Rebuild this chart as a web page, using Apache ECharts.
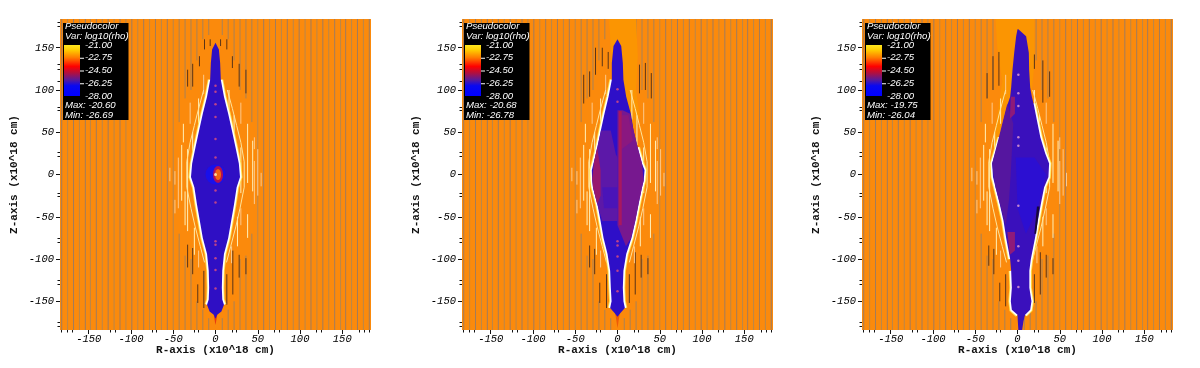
<!DOCTYPE html>
<html><head><meta charset="utf-8">
<style>html,body{margin:0;padding:0;background:#fff}#c{width:1200px;height:368px}</style>
<script src="https://cdn.jsdelivr.net/npm/echarts@6/dist/echarts.min.js"></script>
</head><body><div id="c"></div>
<script>
const tickValues = [-150,-100,-50,0,50,100,150];
const minorX = [-182,-176,-170,-125,-119,-75,-70,-25,-20,20,25,70,75,119,125,170,176,182];
const minorZ = [-180,-175,-130,-125,-80,-76,-26,-22,22,26,76,80,110,125,130,175,180];
const legendValues = ['-21.00','-22.75','-24.50','-26.25','-28.00'];
const maxValues = ['-20.60','-20.68','-19.75'];
const minValues = ['-26.69','-26.78','-26.04'];
const varName = 'Var: log10(rho)';
const legendTitle = 'Pseudocolor';

// gray streak positions (R) running the full height
const grayStrong = [-182,-168,-154,-141,-127,-113,-99,-85,-71,-57,57,71,85,99,113,127,141,154,168,182];
const grayFaint = [-175,-161,-148,-134,-120,-106,-92,-78,-64,-50,50,64,78,92,106,120,134,148,161,175];
// gray segments close to the jet: [R, zTop, zBottom]
const grayNear = [
 [-43,184,62],[-43,-70,-184],[-36,184,90],[-36,-96,-184],[-29,184,100],[-29,-100,-184],[-22,184,135],[-22,-150,-184],
 [-15,184,160],[-15,-160,-184],[-8,184,165],[-8,-170,-184],[8,184,165],[8,-170,-184],[15,184,160],[15,-160,-184],
 [22,184,135],[22,-150,-184],[29,184,100],[29,-100,-184],[36,184,90],[36,-96,-184],[43,184,62],[43,-70,-184]
];
// dark streaks near the jet: [R, zTop, zBottom]
const dark1 = [[-13,160,148],[-6.3,160,152],[6,160,152],[13.4,160,148],[-19,140,128],[-27,131,104],[-33,124,104],[20,140,126],[28,131,104],[36,124,96],
 [-13.8,-114,-158],[-21,-130,-152],[-27,-87,-118],[-33,-83,-110],[13.4,-118,-154],[20.5,-90,-142],[28,-95,-122],[36,-99,-118]];
const dark2 = [[-26,150,118],[-18,150,128],[-11,145,125],[-33,122,92],[-40,118,84],[26,130,96],[33,132,100],[40,120,90],
 [-13,-118,-158],[-21,-128,-152],[-27,-88,-118],[-33,-84,-110],[14,-118,-152],[21,-92,-142],[28,-95,-122],[36,-99,-118]];
const dark3 = [[-29,140,100],[-22,145,105],[-36,120,90],[20,142,125],[30,135,85],[38,122,92],
 [-14,-118,-156],[-21,-128,-150],[-28,-88,-118],[-34,-84,-108],[20,-118,-152],[27,-92,-142],[34,-95,-122],[42,-99,-118]];
// pale fragments of the contours around the jet: [R, zTop, zBottom]
const paleBright = [[30,32,-22],[38,60,-10],[38,-47,-75],[-25,-63,-95],[-33,30,-67],[-40,35,-31],[-20,90,60],[-27,50,10],[16,100,65],[22,70,35],[44,40,-20],[-36,-20,-60],[26,-50,-85],[-38,60,38]];
const paleSoft = [[46,16,-35],[54,2,-14],[-48,4,-12],[-14,118,95],[-20,-90,-110],[19,-85,-105],[30,-40,-60],[46,44,30],[-48,-30,-46],[-54,8,-8],[50,30,-25],[-44,20,-40],[-30,85,60],[30,85,60]];
// contour lines hugging the jet
const hugRight = [[14,100],[20,78],[25,58],[30,38],[34,15],[34,-15],[29,-40],[24,-62],[18,-85],[13,-104]];
const hugLeft = [[-14,100],[-20,78],[-25,58],[-30,38],[-34,15],[-34,-15],[-29,-40],[-24,-62],[-18,-85],[-13,-104]];

// jet outlines: [z, left R, right R]
const jet1 = [[156,0,0],[148,-4,4],[132,-5.5,5.5],[112,-6.3,6.3],[92,-10,10],[72,-15,15],[52,-19.4,19.4],[32,-23.7,23.7],[13,-27.6,27.6],[-3,-29,29],[-15,-25,25],[-35,-22,22],[-55,-18.5,18.5],[-75,-15,15],[-94,-10,10],[-114,-8,8],[-134,-7.5,7.5],[-148,-8,8],[-154,-10,10],[-162,-7,7],[-166,-2,2],[-170,-0.3,0.3]];
const jet2 = [[160,0,0],[152,-4.7,4.4],[132,-6.7,6.3],[112,-6.7,7],[92,-10.6,10.3],[72,-15.4,15.8],[52,-19.7,19],[32,-23.7,23.7],[13,-28.4,28.9],[5,-30.4,32],[-7,-30,31],[-15,-29,29],[-35,-23.7,24.8],[-55,-20,21],[-75,-16.5,16.5],[-94,-11.8,10.3],[-114,-8.7,7],[-134,-7.9,6.3],[-150,-7,7],[-158,-8.7,8.7],[-164,-3.5,3.5],[-168,-0.3,0.3]];
const jet3 = [[172,0,1],[163.5,-1.6,10.2],[144,-3.9,13.4],[124,-5.9,13.8],[103,-7.5,15],[92,-8.7,17],[84,-11.4,19],[64,-16.5,23],[44,-21,27],[25,-26.4,32.7],[13,-30,37.4],[-3,-29,36.6],[-15,-26,31.5],[-35,-21,27.6],[-55,-16.5,24],[-75,-13.4,20.7],[-100,-8.7,15.8],[-114,-7.5,14],[-134,-6.7,14],[-150,-7.9,16.5],[-160,-6.7,15],[-166,0,9],[-174,0.4,7],[-184,1,5.5]];
// bright edges: [zTop, zBottom, side]
const edges1 = [[120,-160,'l'],[120,-160,'r']];
const edges2 = [[112,-160,'l'],[32,-160,'r']];
const edges3 = [[44,-100,'l'],[-114,-166,'l'],[84,-172,'r']];
// pale orange patches
const halo2 = [[-10,184],[22,184],[24,140],[22,100],[26,70],[20,55],[0,60],[-6,120],[-8,150]];
const halo3 = [[-26,184],[20,184],[20,130],[16,90],[0,60],[-20,50],[-30,30],[-18,110],[-24,150]];
// interior shades: [colour, polygon]
const shades1 = [];
const shades2 = [
 ['#77188f',[[0,76],[6,76],[15,72],[19,52],[24,32],[29,13],[31,-7],[29,-15],[25,-35],[21,-55],[16,-75],[10,-85],[0,-60],[0,0]]],
 ['#5c18a8',[[-2,24],[-8,52],[-19.5,52],[-24,32],[-28,13],[-28,-7],[-29,-15],[-24,-35],[-18,-55],[0,-55],[0,20]]],
 ['#98186e',[[-24,32],[-28,13],[-30,-5],[-29,-15],[-24,-35],[-20,-25],[-20,5]]],
 ['#4a14b8',[[-18,-15],[0,-15],[0,-40],[-16,-40]]],
 ['#8a1880',[[5,70],[13,70],[18,40],[5,30]]],
 ['#a8185f',[[1.5,75],[5,75],[5,-60],[1.5,-60]]]
];
const shades3 = [
 ['#55169f',[[-30,13],[-22,44],[-12,84],[-5,60],[-8,0],[-10,-30],[-14,-60],[-26,-15]]],
 ['#8e1a7a',[[-8,92],[-3,92],[-3,72],[-9,66]]],
 ['#8e1a7a',[[-12,-68],[-3,-68],[-3,-90],[-9,-95]]],
 ['#2c0fd2',[[-2,20],[20,20],[34,0],[24,-40],[10,-70],[0,-40]]],
 ['#180838',[[23,-38],[26,-38],[22,-70],[20,-70]]]
];
const tip1 = [[-2.5,-164],[2.5,-164],[0,-178]];
const tip2 = [[-3,-162],[3,-162],[0,-182]];
// small bright knots on the axis
const knots1 = [[0,105],[0,98],[0,83],[0,68],[0,42],[0,20],[0,-19],[0,-33],[0,-79],[0,-83],[0,-99],[0,-113],[0,-135]];
const knots2 = [[0,101],[0,86],[0,-79],[0,-84],[0,-97],[0,-114],[0,-138]];
const knots3 = [[1,118],[1,96],[1,81],[1,44],[1,34],[1,-37],[1,-85],[1,-102],[1,-133]];

const panelLeft = [60,462,862];
const legendLeft = [63,464,865];
const plotSize = 311;
const RANGE = 184;
const ORANGE = '#fb8a0c';

const series = [];
function linesSeries(g, paths, color, width, z) {
  series.push({type:'lines', coordinateSystem:'cartesian2d', xAxisIndex:g*2, yAxisIndex:g*2, polyline:true, silent:true, z:z,
    lineStyle:{color:color, width:width, opacity:1, curveness:0}, data:paths.map(p=>({coords:p}))});
}
function polySeries(g, pts, color, z) {
  series.push({type:'custom', xAxisIndex:g*2, yAxisIndex:g*2, coordinateSystem:'cartesian2d', silent:true, z:z, clip:true, data:pts,
    renderItem:(params, api)=> params.dataIndex!==0 ? null : ({type:'polygon',
      shape:{points:pts.map(p=>api.coord(p))}, style:{fill:color}})});
}
function outline(rows){ return rows.map(r=>[r[2],r[0]]).concat(rows.slice().reverse().map(r=>[r[1],r[0]])); }
function edgePath(rows,e){ return rows.filter(r=>r[0]<=e[0]&&r[0]>=e[1]).map(r=>[e[2]==='l'?r[1]:r[2],r[0]]); }
function segs(list,shift){ return list.map(s=>{const r=s[0]>0?s[0]+(shift||0):s[0];return [[r,s[1]],[r,s[2]]];}); }

const jets=[jet1,jet2,jet3], darks=[dark1,dark2,dark3], edgeSets=[edges1,edges2,edges3], shadeSets=[shades1,shades2,shades3], knotSets=[knots1,knots2,knots3];
const paleShift=[0,1,4];
const xAxes=[], yAxes=[], grids=[];
const labelFont={fontFamily:'Liberation Mono',fontStyle:'italic',fontWeight:'normal',fontSize:10.5,color:'#000'};
const nameFont={fontFamily:'Liberation Mono',fontWeight:'bold',fontSize:11,color:'#111'};
panelLeft.forEach((left,g)=>{
  grids.push({left:left,top:19,width:plotSize,height:plotSize,show:true,backgroundColor:ORANGE,borderWidth:0});
  const main=(name,gap)=>({gridIndex:g,type:'value',min:-RANGE,max:RANGE,splitLine:{show:false},axisLine:{show:false,onZero:false},
    axisTick:{show:true,length:4,inside:false,customValues:tickValues,lineStyle:{color:'#111',width:1}},
    axisLabel:{show:true,customValues:tickValues,margin:gap,...labelFont},
    name:name,nameLocation:'middle',nameMoveOverlap:false,nameTextStyle:nameFont});
  const minor=(vals)=>({gridIndex:g,type:'value',min:-RANGE,max:RANGE,splitLine:{show:false},axisLine:{show:false,onZero:false},
    axisTick:{show:true,length:2.5,customValues:vals,lineStyle:{color:'#111',width:1}},axisLabel:{show:false}});
  xAxes.push({...main('R-axis (x10^18 cm)',4),position:'bottom',nameGap:15},{...minor(minorX),position:'bottom'});
  yAxes.push({...main('Z-axis (x10^18 cm)',6),position:'left',nameGap:40},{...minor(minorZ),position:'left'});

  // streaks
  linesSeries(g,grayStrong.map(r=>[[r,RANGE],[r,-RANGE]]),'#a07c5e',1,2);
  linesSeries(g,grayFaint.map(r=>[[r,RANGE],[r,-RANGE]]),'#b8874c',1,2);
  linesSeries(g,segs(grayNear),'#a88258',1,2);
  if(g===1) polySeries(g,halo2,'#fb9502',3);
  if(g===2) polySeries(g,halo3,'#fb9502',3);
  linesSeries(g,segs(darks[g]),'#5a3418',1,4);
  linesSeries(g,segs(paleBright,paleShift[g]),'#fff0b8',1,5);
  linesSeries(g,segs(paleSoft,paleShift[g]),'#fcc98c',1,5);
  // contours hugging the jet and bright edges
  const sh=paleShift[g];
  linesSeries(g,[hugRight.map(p=>[p[0]+sh,p[1]]),hugLeft],'#ffe49a',1,5);
  const edgePaths=edgeSets[g].map(e=>edgePath(jets[g],e));
  linesSeries(g,edgePaths,'#ffe04a',5,6);
  linesSeries(g,edgePaths,'#ffffff',3.2,7);
  if(g===0) polySeries(g,tip1,'#e83a10',7);
  if(g===1) polySeries(g,tip2,'#ee5a08',7);
  polySeries(g,outline(jets[g]),g===0?'#2f0fc4':(g===1?'#2e0fc8':'#3a10bc'),8);
  shadeSets[g].forEach((s,i)=>polySeries(g,s[1],s[0],9+i*0.01));
  series.push({type:'scatter',xAxisIndex:g*2,yAxisIndex:g*2,symbolSize:2.5,silent:true,z:11,data:knotSets[g],
    itemStyle:{color:g===2?'#e8a0d0':'#e0507a'}});
});
// central source in the first panel
const coreBlue=[[0,0]], coreRed=[[3,0]], coreHot=[[3,0]], coreWhite=[[0,0]];
series.push({type:'scatter',xAxisIndex:0,yAxisIndex:0,symbolSize:20,silent:true,z:10,data:coreBlue,itemStyle:{color:'#1410f4'}});
series.push({type:'scatter',xAxisIndex:0,yAxisIndex:0,symbolSize:[10,17],silent:true,z:12,data:coreRed,itemStyle:{color:'#d81030'}});
series.push({type:'scatter',xAxisIndex:0,yAxisIndex:0,symbolSize:[6,11],silent:true,z:13,data:coreHot,itemStyle:{color:'#ff7a00'}});
series.push({type:'scatter',xAxisIndex:0,yAxisIndex:0,symbolSize:3,silent:true,z:14,data:coreWhite,itemStyle:{color:'#fff4c0'}});

// legends
const graphics=[];
const txtFont='italic 9.6px "Liberation Sans"';
legendLeft.forEach((x,g)=>{
  graphics.push({type:'rect',z:50,shape:{x:x,y:23,width:65.5,height:97},style:{fill:'#000'}});
  graphics.push({type:'rect',z:51,shape:{x:x+1,y:45,width:16,height:51},style:{fill:new echarts.graphic.LinearGradient(0,0,0,1,[
    {offset:0,color:'#ffe820'},{offset:.1,color:'#ffcc00'},{offset:.25,color:'#ff7a00'},{offset:.42,color:'#ff0000'},
    {offset:.55,color:'#b01040'},{offset:.68,color:'#5a1a98'},{offset:.8,color:'#0808f0'},{offset:1,color:'#0000ff'}])}});
  const t=(s,dx,y)=>graphics.push({type:'text',z:52,x:x+dx,y:y,style:{text:s,fill:'#fff',font:txtFont,verticalAlign:'middle'}});
  t(legendTitle,2,26.5);
  t(varName,2,36.5);
  legendValues.forEach((v,i)=>{
    t(v,22,45+i*12.75);
    if(i>0&&i<4) graphics.push({type:'rect',z:52,shape:{x:x+17,y:45+i*12.75,width:4,height:1},style:{fill:'#fff'}});
  });
  t('Max: '+maxValues[g],2,105.5);
  t('Min: '+minValues[g],2,115);
});

const chart=echarts.init(document.getElementById('c'),null,{renderer:'canvas'});
chart.setOption({animation:false,backgroundColor:'#fff',grid:grids,xAxis:xAxes,yAxis:yAxes,series:series,graphic:graphics});
</script></body></html>
